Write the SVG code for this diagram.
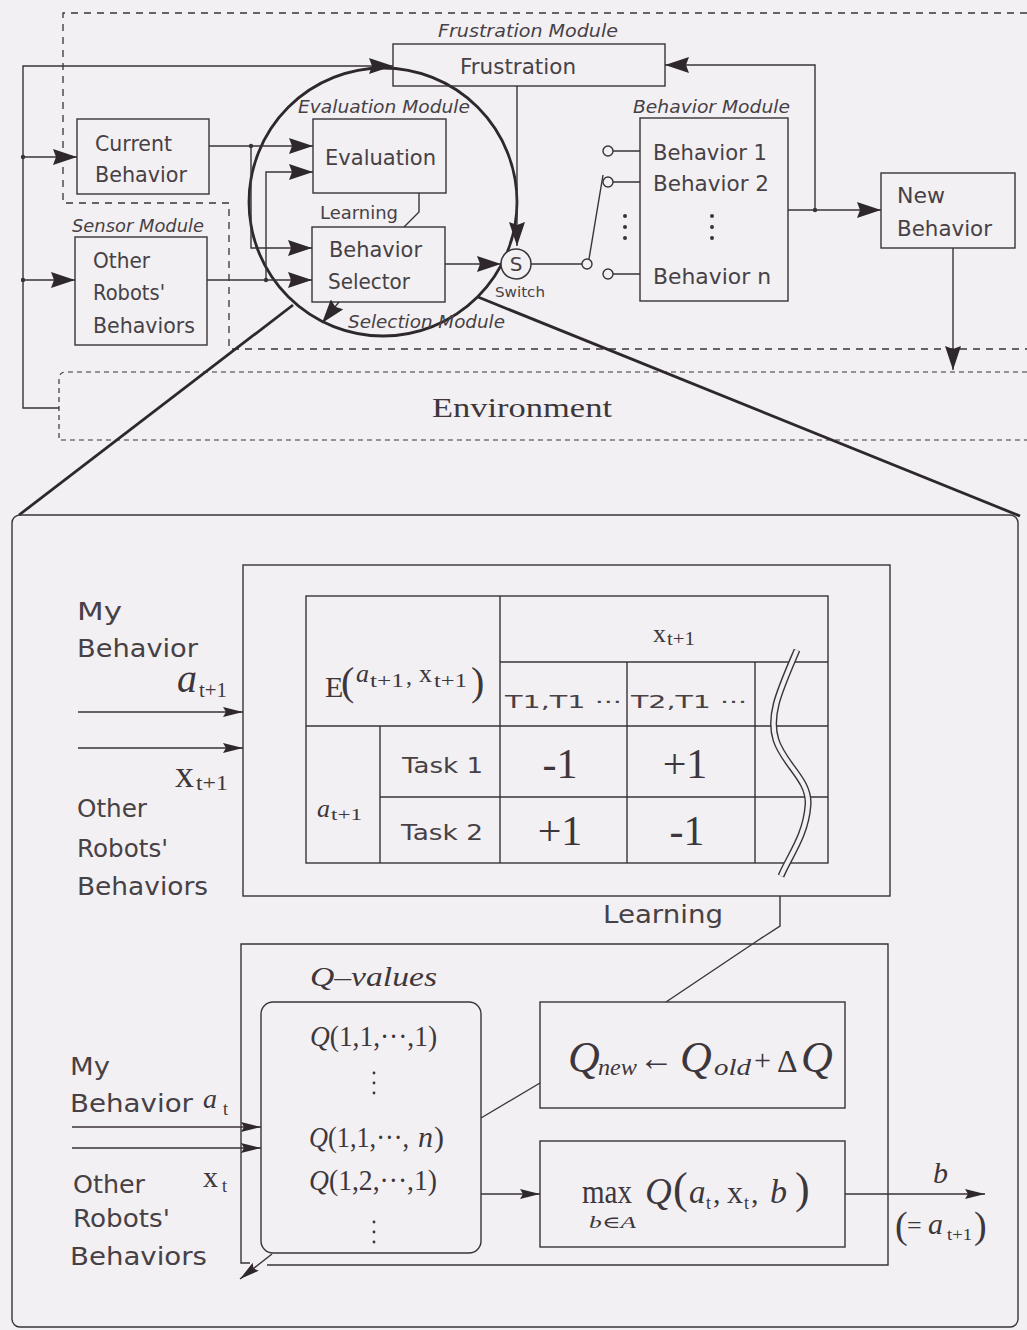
<svg xmlns="http://www.w3.org/2000/svg" width="1027" height="1330" viewBox="0 0 1027 1330">
<style>
.ln{stroke:#3a3337;stroke-width:1.4;fill:none}
.tk{stroke:#2e282c;stroke-width:2.8;fill:none}
.ds{stroke:#3a3337;stroke-width:1.3;fill:none;stroke-dasharray:7 6}
.df{stroke:#3a3337;stroke-width:1.2;fill:none;stroke-dasharray:5 4}
.t{font-family:"DejaVu Sans","Liberation Sans",sans-serif;fill:#474145}
.i{font-family:"DejaVu Sans","Liberation Sans",sans-serif;font-style:italic;fill:#474145}
.m{font-family:"Liberation Serif","DejaVu Serif",serif;fill:#3d373b}
.mi{font-family:"Liberation Serif","DejaVu Serif",serif;font-style:italic;fill:#3d373b}
.dot{fill:#3a3337}
</style>
<defs>
<marker id="ah" markerUnits="userSpaceOnUse" markerWidth="24" markerHeight="16" refX="24" refY="8" orient="auto"><path d="M0,0 L24,8 L0,16 L3,8 z" fill="#2e282c"/></marker>
<marker id="as" markerUnits="userSpaceOnUse" markerWidth="20" markerHeight="10" refX="20" refY="5" orient="auto"><path d="M0,0 L20,5 L0,10 L3,5 z" fill="#2e282c"/></marker>
</defs>
<rect x="0" y="0" width="1027" height="1330" fill="#f2f0f3"/>

<!-- boundaries -->
<g id="robot-boundary">
<path class="ds" d="M1027 13 H63 V203 H229 V349 H1027"/>
</g>
<g id="environment">
<path class="df" d="M1027 372 H66 Q59 372 59 379 V440 H1027"/>
<text class="m" x="432" y="417" font-size="27" textLength="180" lengthAdjust="spacingAndGlyphs" fill="#474145">Environment</text>
</g>

<!-- selection/evaluation loop circle -->
<g id="module-circle">
<circle class="tk" cx="383" cy="202" r="134" stroke-width="2.6"/>
<text class="i" x="298" y="113" font-size="17" textLength="172" lengthAdjust="spacingAndGlyphs">Evaluation Module</text>
<text class="i" x="348" y="328" font-size="17" textLength="157" lengthAdjust="spacingAndGlyphs">Selection Module</text>
</g>

<!-- top nodes -->
<g id="current-behavior">
<rect class="ln" x="77" y="119" width="132" height="75"/>
<text class="t" x="95" y="151" font-size="21" textLength="77" lengthAdjust="spacingAndGlyphs">Current</text>
<text class="t" x="95" y="182" font-size="21" textLength="92" lengthAdjust="spacingAndGlyphs">Behavior</text>
</g>
<g id="other-robots-behaviors">
<text class="i" x="72" y="232" font-size="17" textLength="132" lengthAdjust="spacingAndGlyphs">Sensor Module</text>
<rect class="ln" x="75" y="237" width="132" height="108"/>
<text class="t" x="93" y="268" font-size="21" textLength="57" lengthAdjust="spacingAndGlyphs">Other</text>
<text class="t" x="93" y="300" font-size="21" textLength="72" lengthAdjust="spacingAndGlyphs">Robots'</text>
<text class="t" x="93" y="333" font-size="21" textLength="102" lengthAdjust="spacingAndGlyphs">Behaviors</text>
</g>
<g id="frustration">
<text class="i" x="438" y="37" font-size="17" textLength="180" lengthAdjust="spacingAndGlyphs">Frustration Module</text>
<rect class="ln" x="393" y="44" width="272" height="42"/>
<text class="t" x="460" y="74" font-size="21" textLength="116" lengthAdjust="spacingAndGlyphs">Frustration</text>
</g>
<g id="evaluation">
<rect class="ln" x="313" y="119" width="133" height="74"/>
<text class="t" x="325" y="165" font-size="21" textLength="111" lengthAdjust="spacingAndGlyphs">Evaluation</text>
</g>
<g id="behavior-selector">
<rect class="ln" x="312" y="227" width="133" height="75"/>
<text class="t" x="329" y="257" font-size="21" textLength="93" lengthAdjust="spacingAndGlyphs">Behavior</text>
<text class="t" x="328" y="289" font-size="21" textLength="82" lengthAdjust="spacingAndGlyphs">Selector</text>
</g>
<g id="switch">
<circle cx="516" cy="264" r="15" fill="#f2f0f3" stroke="#3a3337" stroke-width="1.5"/>
<text class="t" x="516" y="271" font-size="20" text-anchor="middle">S</text>
<text class="t" x="495" y="297" font-size="14" textLength="50" lengthAdjust="spacingAndGlyphs">Switch</text>
<circle cx="587" cy="264" r="5" fill="#f2f0f3" stroke="#3a3337" stroke-width="1.4"/>
<path class="ln" d="M589 259 L603 175"/>
</g>
<g id="behavior-module">
<text class="i" x="633" y="113" font-size="17" textLength="157" lengthAdjust="spacingAndGlyphs">Behavior Module</text>
<rect class="ln" x="640" y="118" width="148" height="183"/>
<path class="ln" d="M613 151 H640 M613 182 H640 M613 274 H640"/>
<circle cx="608" cy="151" r="5" fill="#f2f0f3" stroke="#3a3337" stroke-width="1.4"/>
<circle cx="608" cy="182" r="5" fill="#f2f0f3" stroke="#3a3337" stroke-width="1.4"/>
<circle cx="608" cy="274" r="5" fill="#f2f0f3" stroke="#3a3337" stroke-width="1.4"/>
<circle class="dot" cx="625" cy="216" r="2"/><circle class="dot" cx="625" cy="227" r="2"/><circle class="dot" cx="625" cy="238" r="2"/>
<circle class="dot" cx="712" cy="216" r="2"/><circle class="dot" cx="712" cy="227" r="2"/><circle class="dot" cx="712" cy="238" r="2"/>
<text class="t" x="653" y="160" font-size="21" textLength="114" lengthAdjust="spacingAndGlyphs">Behavior 1</text>
<text class="t" x="653" y="191" font-size="21" textLength="116" lengthAdjust="spacingAndGlyphs">Behavior 2</text>
<text class="t" x="653" y="284" font-size="21" textLength="118" lengthAdjust="spacingAndGlyphs">Behavior n</text>
</g>
<g id="new-behavior">
<rect class="ln" x="881" y="173" width="134" height="75"/>
<text class="t" x="897" y="203" font-size="21" textLength="48" lengthAdjust="spacingAndGlyphs">New</text>
<text class="t" x="897" y="236" font-size="21" textLength="95" lengthAdjust="spacingAndGlyphs">Behavior</text>
</g>

<!-- top connectors -->
<g id="connectors-top">
<path class="ln" d="M59 408 H23 V66 H393" marker-end="url(#ah)"/>
<path class="ln" d="M23 157 H77" marker-end="url(#ah)"/>
<path class="ln" d="M23 280 H75" marker-end="url(#ah)"/>
<path class="ln" d="M209 146 H313" marker-end="url(#ah)"/>
<path class="ln" d="M251 146 V248 H312" marker-end="url(#ah)"/>
<path class="ln" d="M207 280 H312" marker-end="url(#ah)"/>
<path class="ln" d="M266 280 V172 H313" marker-end="url(#ah)"/>
<path class="ln" d="M445 264 H501" marker-end="url(#ah)"/>
<path class="ln" d="M517 86 V246" marker-end="url(#ah)"/>
<path class="ln" d="M531 264 H582"/>
<path class="ln" d="M788 210 H881" marker-end="url(#ah)"/>
<path class="ln" d="M815 210 V65 H665" marker-end="url(#ah)"/>
<path class="ln" d="M953 248 V370" marker-end="url(#ah)"/>
<path class="ln" d="M419 193 V212 L404 227"/>
<text class="t" x="320" y="219" font-size="18" textLength="78" lengthAdjust="spacingAndGlyphs">Learning</text>
<path class="ln" d="M339 302 L322 323" marker-end="url(#ah)"/>
<circle class="dot" cx="23" cy="157" r="2.2"/><circle class="dot" cx="23" cy="280" r="2.2"/>
<circle class="dot" cx="251" cy="146" r="2.2"/><circle class="dot" cx="266" cy="280" r="2.2"/>
<circle class="dot" cx="815" cy="210" r="2.2"/>
<!-- projection lines -->
<path class="tk" d="M293 305 L19 515"/>
<path class="tk" d="M478 297 L1020 516"/>
</g>

<!-- bottom detail panel -->
<g id="detail-panel">
<rect class="ln" x="12" y="515" width="1006" height="812" rx="8" stroke-width="1.6"/>
</g>

<g id="evaluation-table">
<rect class="ln" x="243" y="565" width="647" height="331"/>
<rect class="ln" x="306" y="596" width="522" height="267"/>
<path class="ln" d="M500 596 V863 M500 662 H828 M306 726 H828 M380 726 V863 M380 797 H828 M627 662 V863 M755 662 V863"/>
<path d="M797 650 C780 690 768 715 776 740 C784 765 810 780 808 805 C806 835 790 855 781 876" fill="none" stroke="#3a3337" stroke-width="7"/>
<path d="M797 650 C780 690 768 715 776 740 C784 765 810 780 808 805 C806 835 790 855 781 876" fill="none" stroke="#f2f0f3" stroke-width="4.2"/>
<text class="m" x="325" y="697" font-size="30">E</text>
<text class="m" x="341" y="695" font-size="40">(</text>
<text class="mi" x="356" y="682" font-size="26">a</text>
<text class="m" x="370" y="687" font-size="19" textLength="34" lengthAdjust="spacingAndGlyphs">t+1</text>
<text class="m" x="406" y="684" font-size="24">,</text>
<text class="m" x="419" y="682" font-size="26">x</text>
<text class="m" x="434" y="687" font-size="19" textLength="33" lengthAdjust="spacingAndGlyphs">t+1</text>
<text class="m" x="471" y="695" font-size="40">)</text>
<text class="m" x="653" y="642" font-size="26">x</text>
<text class="m" x="667" y="645" font-size="18" textLength="28" lengthAdjust="spacingAndGlyphs">t+1</text>
<text class="t" x="505" y="708" font-size="18" textLength="117" lengthAdjust="spacingAndGlyphs">T1,T1 ···</text>
<text class="t" x="631" y="708" font-size="18" textLength="116" lengthAdjust="spacingAndGlyphs">T2,T1 ···</text>
<text class="mi" x="317" y="817" font-size="26">a</text>
<text class="m" x="331" y="820" font-size="17" textLength="31" lengthAdjust="spacingAndGlyphs">t+1</text>
<text class="t" x="402" y="773" font-size="22" textLength="81" lengthAdjust="spacingAndGlyphs">Task 1</text>
<text class="t" x="401" y="840" font-size="22" textLength="82" lengthAdjust="spacingAndGlyphs">Task 2</text>
<text class="m" x="560" y="778" font-size="42" text-anchor="middle">-1</text>
<text class="m" x="685" y="778" font-size="42" text-anchor="middle">+1</text>
<text class="m" x="560" y="845" font-size="42" text-anchor="middle">+1</text>
<text class="m" x="687" y="845" font-size="42" text-anchor="middle">-1</text>
</g>

<g id="eval-inputs">
<text class="t" x="77" y="620" font-size="24" textLength="45" lengthAdjust="spacingAndGlyphs">My</text>
<text class="t" x="77" y="657" font-size="24" textLength="121" lengthAdjust="spacingAndGlyphs">Behavior</text>
<text class="mi" x="177" y="692" font-size="40">a</text>
<text class="m" x="199" y="697" font-size="22" textLength="28" lengthAdjust="spacingAndGlyphs">t+1</text>
<text class="m" x="175" y="787" font-size="38">x</text>
<text class="m" x="196" y="790" font-size="22" textLength="32" lengthAdjust="spacingAndGlyphs">t+1</text>
<text class="t" x="77" y="817" font-size="24" textLength="70" lengthAdjust="spacingAndGlyphs">Other</text>
<text class="t" x="77" y="857" font-size="24" textLength="91" lengthAdjust="spacingAndGlyphs">Robots'</text>
<text class="t" x="77" y="895" font-size="24" textLength="131" lengthAdjust="spacingAndGlyphs">Behaviors</text>
</g>

<g id="q-learning-box">
<path class="ln" d="M267 1265 H888 V944 H241 V1263 H250"/>
<text class="mi" x="310" y="986" font-size="27" textLength="127" lengthAdjust="spacingAndGlyphs">Q–values</text>
</g>
<g id="q-values">
<rect class="ln" x="261" y="1002" width="220" height="251" rx="12"/>
<text class="m" x="310" y="1046" font-size="30" textLength="127" lengthAdjust="spacingAndGlyphs"><tspan class="mi">Q</tspan>(1,1,···,1)</text>
<text class="m" x="309" y="1147" font-size="30" textLength="100" lengthAdjust="spacingAndGlyphs"><tspan class="mi">Q</tspan>(1,1,···,</text>
<text class="mi" x="418" y="1147" font-size="30">n</text>
<text class="m" x="434" y="1147" font-size="30">)</text>
<text class="m" x="309" y="1190" font-size="30" textLength="128" lengthAdjust="spacingAndGlyphs"><tspan class="mi">Q</tspan>(1,2,···,1)</text>
<circle class="dot" cx="374" cy="1073" r="1.4"/><circle class="dot" cx="374" cy="1083" r="1.4"/><circle class="dot" cx="374" cy="1093" r="1.4"/>
<circle class="dot" cx="374" cy="1222" r="1.4"/><circle class="dot" cx="374" cy="1232" r="1.4"/><circle class="dot" cx="374" cy="1242" r="1.4"/>
</g>
<g id="q-update">
<rect class="ln" x="540" y="1002" width="305" height="106"/>
<text class="mi" x="568" y="1072" font-size="44">Q</text>
<text class="mi" x="598" y="1075" font-size="24" textLength="39" lengthAdjust="spacingAndGlyphs">new</text>
<text class="m" x="639" y="1070" font-size="36" textLength="35" lengthAdjust="spacingAndGlyphs">←</text>
<text class="mi" x="680" y="1072" font-size="44">Q</text>
<text class="mi" x="714" y="1075" font-size="24" textLength="37" lengthAdjust="spacingAndGlyphs">old</text>
<text class="m" x="754" y="1070" font-size="30">+</text>
<text class="m" x="777" y="1072" font-size="32">Δ</text>
<text class="mi" x="801" y="1072" font-size="44">Q</text>
</g>
<g id="q-max">
<rect class="ln" x="540" y="1141" width="305" height="106"/>
<text class="m" x="582" y="1203" font-size="34" textLength="50" lengthAdjust="spacingAndGlyphs">max</text>
<text class="mi" x="589" y="1228" font-size="17" textLength="47" lengthAdjust="spacingAndGlyphs">b∈A</text>
<text class="mi" x="645" y="1204" font-size="37">Q</text>
<text class="m" x="673" y="1203" font-size="44">(</text>
<text class="mi" x="689" y="1203" font-size="33">a</text>
<text class="m" x="706" y="1209" font-size="18">t</text>
<text class="m" x="713" y="1203" font-size="30">,</text>
<text class="m" x="727" y="1203" font-size="32">x</text>
<text class="m" x="744" y="1209" font-size="18">t</text>
<text class="m" x="751" y="1203" font-size="30">,</text>
<text class="mi" x="770" y="1203" font-size="34">b</text>
<text class="m" x="795" y="1203" font-size="44">)</text>
</g>
<g id="q-inputs">
<text class="t" x="70" y="1075" font-size="24" textLength="40" lengthAdjust="spacingAndGlyphs">My</text>
<text class="t" x="70" y="1112" font-size="24" textLength="123" lengthAdjust="spacingAndGlyphs">Behavior</text>
<text class="mi" x="203" y="1108" font-size="28">a</text>
<text class="m" x="223" y="1115" font-size="18">t</text>
<text class="t" x="73" y="1193" font-size="24" textLength="72" lengthAdjust="spacingAndGlyphs">Other</text>
<text class="m" x="203" y="1187" font-size="30">x</text>
<text class="m" x="222" y="1192" font-size="18">t</text>
<text class="t" x="73" y="1227" font-size="24" textLength="97" lengthAdjust="spacingAndGlyphs">Robots'</text>
<text class="t" x="70" y="1265" font-size="24" textLength="137" lengthAdjust="spacingAndGlyphs">Behaviors</text>
</g>
<g id="q-output">
<text class="mi" x="933" y="1183" font-size="30">b</text>
<text class="m" x="895" y="1238" font-size="38">(</text>
<text class="m" x="907" y="1234" font-size="26">=</text>
<text class="mi" x="928" y="1234" font-size="30">a</text>
<text class="m" x="947" y="1240" font-size="17" textLength="25" lengthAdjust="spacingAndGlyphs">t+1</text>
<text class="m" x="974" y="1238" font-size="38">)</text>
</g>

<g id="connectors-bottom">
<path class="ln" d="M78 712 H243" marker-end="url(#as)"/>
<path class="ln" d="M78 748 H243" marker-end="url(#as)"/>
<path class="ln" d="M780 896 V926 L757 941 L666 1002"/>
<text class="t" x="603" y="923" font-size="24" textLength="120" lengthAdjust="spacingAndGlyphs">Learning</text>
<path class="ln" d="M72 1127 H261" marker-end="url(#as)"/>
<path class="ln" d="M72 1148 H261" marker-end="url(#as)"/>
<path class="ln" d="M481 1118 L540 1083"/>
<path class="ln" d="M481 1194 H540" marker-end="url(#as)"/>
<path class="ln" d="M845 1194 H985" marker-end="url(#as)"/>
<path class="ln" d="M272 1254 L240 1279" marker-end="url(#as)"/>
</g>
</svg>
